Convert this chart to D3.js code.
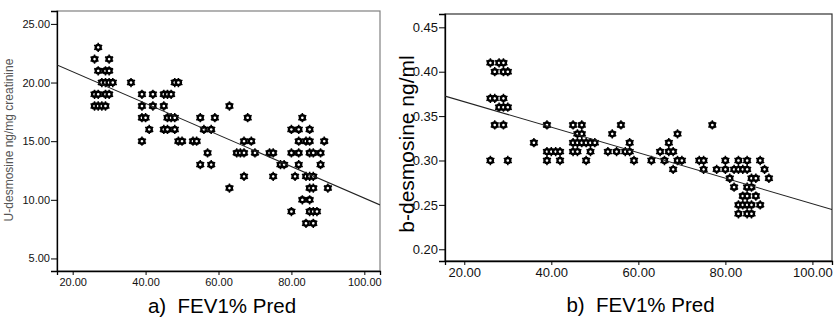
<!DOCTYPE html>
<html>
<head>
<meta charset="utf-8">
<script src="https://cdn.jsdelivr.net/npm/d3@7"></script>
<style>
  body { margin: 0; background: #fff; }
  svg { display: block; font-family: "Liberation Sans", Arial, sans-serif; }
</style>
</head>
<body>
<script>
// two scatter plots: desmosine vs FEV1% pred, with fitted line

// panel a: urine desmosine (ng/mg creatinine)
let fevA = [27, 26, 30, 27, 29, 30, 28, 29, 30, 31, 36, 48, 49,
  26, 27, 29, 30, 39, 42, 45, 46, 47,
  26, 27, 28, 29, 39, 42, 45, 63,
  39, 40, 46, 47, 48, 55, 59, 68, 83,
  41, 45, 46, 48, 56, 58, 80, 82, 85,
  39, 49, 50, 53, 54, 67, 69, 82, 84, 85, 89,
  57, 65, 66, 67, 70, 74, 75, 80, 82, 85, 86, 88,
  55, 58, 77, 78, 82, 88,
  67, 75, 81, 84, 85, 86,
  63, 85, 86, 90,
  83, 85,
  80, 85, 86, 87,
  84, 86]
let desA = [23, 22, 22, 21, 21, 21, 20, 20, 20, 20, 20, 20, 20,
  19, 19, 19, 19, 19, 19, 19, 19, 19,
  18, 18, 18, 18, 18, 18, 18, 18,
  17, 17, 17, 17, 17, 17, 17, 17, 17,
  16, 16, 16, 16, 16, 16, 16, 16, 16,
  15, 15, 15, 15, 15, 15, 15, 15, 15, 15, 15,
  14, 14, 14, 14, 14, 14, 14, 14, 14, 14, 14, 14,
  13, 13, 13, 13, 13, 13,
  12, 12, 12, 12, 12, 12,
  11, 11, 11, 11,
  10, 10,
  9, 9, 9, 9,
  8, 8]

// panel b: blood desmosine (ng/ml)
let fevB = [26, 28, 29, 27, 29, 30, 26, 27, 29, 28, 29, 30,
  27, 29, 39, 45, 47, 56, 77,
  46, 47, 54, 69,
  36, 45, 46, 47, 48, 49, 50, 58, 67,
  39, 40, 41, 42, 45, 46, 49, 53, 55, 57, 58, 65, 67, 68,
  26, 30, 39, 42, 48, 59, 63, 66, 69, 70, 74, 75, 80, 83, 85, 88,
  68, 75, 78, 80, 82, 83, 84, 85, 89,
  81, 86, 87, 90,
  82, 85, 86,
  84, 85, 87,
  83, 84, 85, 86, 88,
  83, 85, 86]
let desB = [0.41, 0.41, 0.41, 0.40, 0.40, 0.40, 0.37, 0.37, 0.37, 0.36, 0.36, 0.36,
  0.34, 0.34, 0.34, 0.34, 0.34, 0.34, 0.34,
  0.33, 0.33, 0.33, 0.33,
  0.32, 0.32, 0.32, 0.32, 0.32, 0.32, 0.32, 0.32, 0.32,
  0.31, 0.31, 0.31, 0.31, 0.31, 0.31, 0.31, 0.31, 0.31, 0.31, 0.31, 0.31, 0.31, 0.31,
  0.30, 0.30, 0.30, 0.30, 0.30, 0.30, 0.30, 0.30, 0.30, 0.30, 0.30, 0.30, 0.30, 0.30, 0.30, 0.30,
  0.29, 0.29, 0.29, 0.29, 0.29, 0.29, 0.29, 0.29, 0.29,
  0.28, 0.28, 0.28, 0.28,
  0.27, 0.27, 0.27,
  0.26, 0.26, 0.26,
  0.25, 0.25, 0.25, 0.25, 0.25,
  0.24, 0.24, 0.24]

// fitted lines
let fitA = { intercept: 23.61, slope: -0.1347 }
let fitB = { intercept: 0.3949, slope: -0.001436 }

// tick values and labels
let xTicks = [20, 40, 60, 80, 100]
let yTicksA = [5, 10, 15, 20, 25]
let yTicksB = [0.20, 0.25, 0.30, 0.35, 0.40, 0.45]
let xTitleA = 'a)\u00a0 FEV1% Pred'
let xTitleB = 'b)\u00a0 FEV1% Pred'
let yTitleA = 'U-desmosine ng/mg creatinine'
let yTitleB = 'b-desmosine ng/ml'

let width = 839
let height = 319

let svg = d3.select('body')
  .append('svg')
  .attr('width', width)
  .attr('height', height)

// one panel
function drawPanel(opt) {
  let xScale = d3.scaleLinear().domain(opt.xDomain).range([opt.left, opt.right])
  let yScale = d3.scaleLinear().domain(opt.yDomain).range([opt.bottom, opt.top])
  let g = svg.append('g')

  // frame
  g.append('rect')
    .attr('x', opt.left)
    .attr('y', opt.top)
    .attr('width', opt.right - opt.left)
    .attr('height', opt.bottom - opt.top)
    .attr('fill', '#fff')
    .attr('stroke', opt.frameColor)
    .attr('stroke-width', 1.2)

  // y axis
  let yAxis = d3.axisLeft(yScale)
    .tickValues(opt.yTicks)
    .tickFormat(d3.format('.2f'))
    .tickSize(6)
    .tickPadding(1)
  let ya = g.append('g')
    .attr('transform', 'translate(' + opt.left + ',0)')
    .call(yAxis)
  ya.select('.domain').attr('stroke', '#000').attr('stroke-width', 1.3)
  ya.selectAll('text')
    .attr('font-size', opt.tickFont)
    .attr('font-family', '"Liberation Sans", Arial, sans-serif')
    .attr('fill', '#111')

  // x axis
  let xAxis = d3.axisBottom(xScale)
    .tickValues(xTicks)
    .tickFormat(d3.format('.2f'))
    .tickSize(4)
    .tickPadding(opt.xPad)
  let xa = g.append('g')
    .attr('transform', 'translate(0,' + opt.bottom + ')')
    .call(xAxis)
  xa.select('.domain').attr('stroke', '#000').attr('stroke-width', 1.3)
  xa.selectAll('text')
    .attr('font-size', opt.tickFont)
    .attr('font-family', '"Liberation Sans", Arial, sans-serif')
    .attr('fill', '#111')

  // clip for the fit line
  let clipId = 'clip-' + opt.id
  svg.append('clipPath').attr('id', clipId)
    .append('rect')
    .attr('x', opt.left)
    .attr('y', opt.top)
    .attr('width', opt.right - opt.left)
    .attr('height', opt.bottom - opt.top)

  // points, sunflower-like markers
  let points = d3.zip(opt.xs, opt.ys)
  let star = d3.symbol().type(d3.symbolAsterisk).size(60)
  let pts = g.append('g').selectAll('g.pt')
    .data(points)
    .enter()
    .append('g')
    .attr('class', 'pt')
    .attr('transform', (d) => 'translate(' + xScale(d[0]) + ',' + yScale(d[1]) + ')')
  pts.append('path')
    .attr('d', star)
    .attr('stroke', '#000')
    .attr('stroke-width', 1.5)
  pts.append('circle')
    .attr('r', 2.5)
    .attr('fill', '#fff')
    .attr('stroke', '#000')
    .attr('stroke-width', 2.4)

  // fit line
  let x0 = opt.xDomain[0]
  let x1 = opt.xDomain[1]
  g.append('line')
    .attr('clip-path', 'url(#' + clipId + ')')
    .attr('x1', xScale(x0))
    .attr('y1', yScale(opt.fit.intercept + opt.fit.slope * x0))
    .attr('x2', xScale(x1))
    .attr('y2', yScale(opt.fit.intercept + opt.fit.slope * x1))
    .attr('stroke', '#222')
    .attr('stroke-width', 1.1)

  // titles
  svg.append('text')
    .attr('x', (opt.left + opt.right) / 2 + opt.xTitleDx)
    .attr('y', opt.xTitleY)
    .attr('text-anchor', 'middle')
    .attr('font-size', 20.5)
    .attr('fill', '#000')
    .text(opt.xTitle)
  svg.append('text')
    .attr('transform', 'translate(' + opt.yTitleX + ',' + opt.yTitleY + ') rotate(-90)')
    .attr('text-anchor', 'middle')
    .attr('font-size', opt.yTitleFont)
    .attr('fill', opt.yTitleColor)
    .text(opt.yTitle)
}

drawPanel({
  id: 'a', xs: fevA, ys: desA, fit: fitA,
  xDomain: [15.7, 104.3], yDomain: [3.93, 26.1],
  left: 57, right: 380, top: 11, bottom: 271,
  yTicks: yTicksA, tickFont: 11, xPad: 3,
  frameColor: '#808080',
  xTitle: xTitleA, xTitleDx: 3.5, xTitleY: 313,
  yTitle: yTitleA, yTitleX: 13, yTitleY: 140, yTitleFont: 12, yTitleColor: '#555'
})

drawPanel({
  id: 'b', xs: fevB, ys: desB, fit: fitB,
  xDomain: [15.57, 104.5], yDomain: [0.1868, 0.465],
  left: 445, right: 832, top: 14, bottom: 261,
  yTicks: yTicksB, tickFont: 13, xPad: 3,
  frameColor: '#333',
  xTitle: xTitleB, xTitleDx: 2, xTitleY: 312,
  yTitle: yTitleB, yTitleX: 414, yTitleY: 144, yTitleFont: 21, yTitleColor: '#000'
})
</script>
</body>
</html>
